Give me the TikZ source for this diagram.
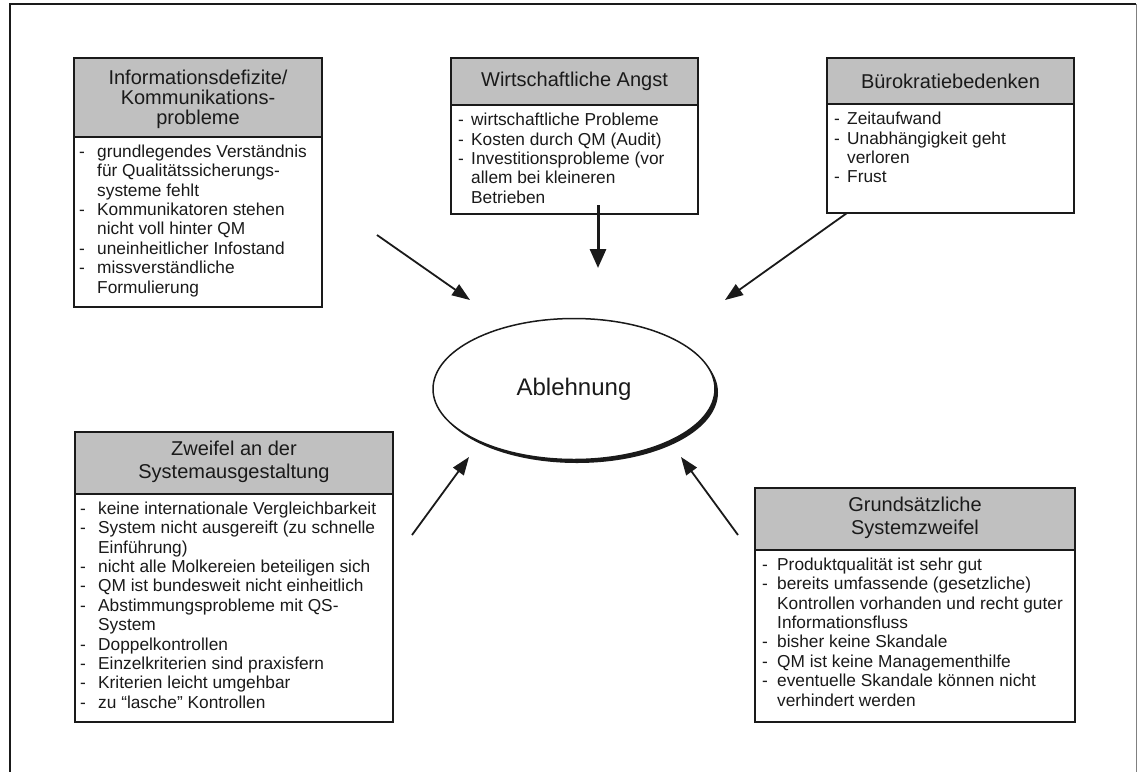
\documentclass[tikz,border=0pt]{standalone}
\usepackage{fontspec}
\setmainfont{Liberation Sans}
\usetikzlibrary{arrows.meta,shapes.geometric}
\definecolor{hdr}{HTML}{C0C0C0}
\definecolor{ink}{HTML}{1A1A1A}
\newcommand{\bodyfnt}{\fontsize{17.3}{19.4}\selectfont}
\newcommand{\hdrfnt}{\fontsize{20}{22}\selectfont}
\begin{document}
\begin{tikzpicture}[x=1pt,y=-1pt,
  box/.style={draw=ink, anchor=north west, inner sep=0pt, outer sep=0pt},
  thickbox/.style={box, line width=2.8pt},
  thinbox/.style={box, line width=1.3pt},
  hdrbox/.style={fill=hdr},
  bodybox/.style={fill=white},
  hdrtext/.style={align=center, inner sep=0pt, font=\hdrfnt, text=ink},
  bodytext/.style={anchor=north west, inner sep=0pt, font=\bodyfnt, text=ink},
  arr/.style={draw=ink, line width=1.8pt, -{Triangle[length=18pt,width=13pt]}},
  arrthick/.style={draw=ink, line width=3pt, -{Triangle[length=19pt,width=16pt]}},
]
\useasboundingbox (0,0) rectangle (1138,772);
\fill[white] (0,0) rectangle (1138,772);
% outer frame
\draw[ink, line width=2pt] (1136,4) -- (10,4) -- (10,772);
\draw[gray, line width=1pt] (1136.5,4) -- (1136.5,772);

% Box 1
\node[thickbox, hdrbox, minimum width=248pt, minimum height=79pt] (h1) at (74,58) {};
\node[thickbox, bodybox, minimum width=248pt, minimum height=170pt] (b1) at (74,137) {};
\node[hdrtext, font=\fontsize{20}{20}\selectfont] (t1) at ([yshift=-2pt]h1.center) {Informationsdefizite/\\Kommunikations-\\probleme};
\node[bodytext] (l1) at ([xshift=5pt,yshift=-6.5pt]b1.north west) {%
\begin{tabular}{@{}p{18pt}@{}l@{}}
-& grundlegendes Verständnis\\
 & für Qualitätssicherungs-\\
 & systeme fehlt\\
-& Kommunikatoren stehen\\
 & nicht voll hinter QM\\
-& uneinheitlicher Infostand\\
-& missverständliche\\
 & Formulierung
\end{tabular}};

% Box 2
\node[thinbox, hdrbox, minimum width=247pt, minimum height=47pt] (h2) at (451,58) {};
\node[thinbox, bodybox, minimum width=247pt, minimum height=109pt] (b2) at (451,105) {};
\node[hdrtext] (t2) at (h2.center) {Wirtschaftliche Angst};
\node[bodytext] (l2) at ([xshift=7pt,yshift=-7pt]b2.north west) {%
\begin{tabular}{@{}p{13pt}@{}l@{}}
-& wirtschaftliche Probleme\\
-& Kosten durch QM (Audit)\\
-& Investitionsprobleme (vor\\
 & allem bei kleineren\\
 & Betrieben
\end{tabular}};

% Box 3
\node[thinbox, hdrbox, minimum width=247pt, minimum height=46pt] (h3) at (827,58) {};
\node[thinbox, bodybox, minimum width=247pt, minimum height=109pt] (b3) at (827,104) {};
\node[hdrtext] (t3) at (h3.center) {Bürokratiebedenken};
\node[bodytext] (l3) at ([xshift=7pt,yshift=-7pt]b3.north west) {%
\begin{tabular}{@{}p{13pt}@{}l@{}}
-& Zeitaufwand\\
-& Unabhängigkeit geht\\
 & verloren\\
-& Frust
\end{tabular}};

% Box 4
\node[thickbox, hdrbox, minimum width=318pt, minimum height=62pt] (h4) at (75,432) {};
\node[thickbox, bodybox, minimum width=318pt, minimum height=228pt] (b4) at (75,494) {};
\node[hdrtext, font=\fontsize{20}{23}\selectfont] (t4) at ([yshift=1pt]h4.center) {Zweifel an der\\Systemausgestaltung};
\node[bodytext] (l4) at ([xshift=5pt,yshift=-6.5pt]b4.north west) {%
\begin{tabular}{@{}p{18pt}@{}l@{}}
-& keine internationale Vergleichbarkeit\\
-& System nicht ausgereift (zu schnelle\\
 & Einführung)\\
-& nicht alle Molkereien beteiligen sich\\
-& QM ist bundesweit nicht einheitlich\\
-& Abstimmungsprobleme mit QS-\\
 & System\\
-& Doppelkontrollen\\
-& Einzelkriterien sind praxisfern\\
-& Kriterien leicht umgehbar\\
-& zu “lasche” Kontrollen
\end{tabular}};

% Box 5
\node[thickbox, hdrbox, minimum width=320pt, minimum height=62pt] (h5) at (755,488) {};
\node[thickbox, bodybox, minimum width=320pt, minimum height=172pt] (b5) at (755,550) {};
\node[hdrtext, font=\fontsize{20}{23}\selectfont] (t5) at ([yshift=1pt]h5.center) {Grundsätzliche\\Systemzweifel};
\node[bodytext] (l5) at ([xshift=7pt,yshift=-6.5pt]b5.north west) {%
\begin{tabular}{@{}p{15pt}@{}l@{}}
-& Produktqualität ist sehr gut\\
-& bereits umfassende (gesetzliche)\\
 & Kontrollen vorhanden und recht guter\\
 & Informationsfluss\\
-& bisher keine Skandale\\
-& QM ist keine Managementhilfe\\
-& eventuelle Skandale können nicht\\
 & verhindert werden
\end{tabular}};

% Ellipse with shadow
\fill[ink] (577,392.5) ellipse [x radius=141pt, y radius=70.5pt];
\node[draw=ink, ellipse, line width=1.5pt, fill=white, minimum width=282pt, minimum height=141pt, inner sep=0pt, font=\fontsize{24}{28}\selectfont, text=ink] (ell) at (574,389) {Ablehnung};

% arrow end points
\coordinate (a1s) at (377,235); \coordinate (a1e) at (470,300);
\coordinate (a2s) at (598,205); \coordinate (a2e) at (598,268);
\coordinate (a3s) at (847,213); \coordinate (a3e) at (725,300);
\coordinate (a4s) at (412,535); \coordinate (a4e) at (469,457);
\coordinate (a5s) at (738,535); \coordinate (a5e) at (681,457);
\draw[arr] (a1s) -- (a1e);
\draw[arrthick] (a2s) -- (a2e);
\draw[arr] (a3s) -- (a3e);
\draw[arr] (a4s) -- (a4e);
\draw[arr] (a5s) -- (a5e);
\end{tikzpicture}
\end{document}
